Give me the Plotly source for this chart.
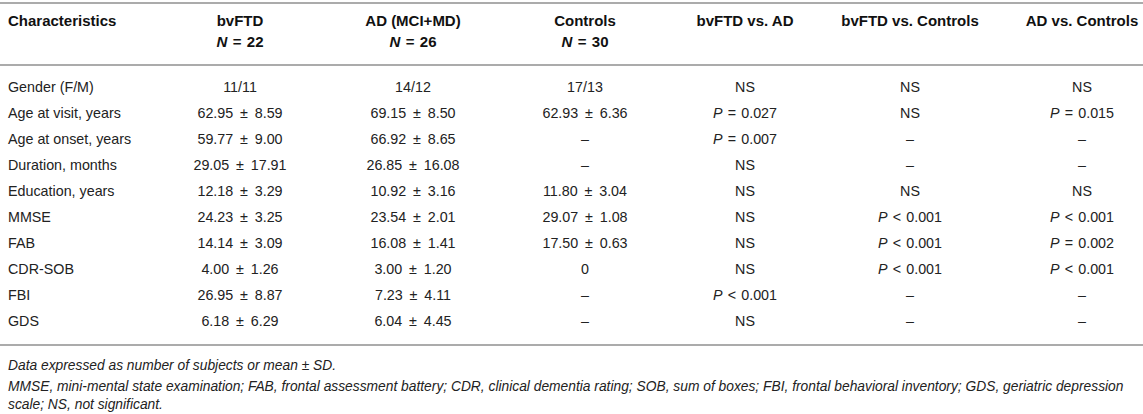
import plotly.graph_objects as go

# Table content.
CHARACTERISTICS = [
    "Gender (F/M)", "Age at visit, years", "Age at onset, years",
    "Duration, months", "Education, years", "MMSE", "FAB", "CDR-SOB",
    "FBI", "GDS",
]
BVFTD = ["11/11", "62.95 ± 8.59", "59.77 ± 9.00", "29.05 ± 17.91",
         "12.18 ± 3.29", "24.23 ± 3.25", "14.14 ± 3.09", "4.00 ± 1.26",
         "26.95 ± 8.87", "6.18 ± 6.29"]
AD = ["14/12", "69.15 ± 8.50", "66.92 ± 8.65", "26.85 ± 16.08",
      "10.92 ± 3.16", "23.54 ± 2.01", "16.08 ± 1.41", "3.00 ± 1.20",
      "7.23 ± 4.11", "6.04 ± 4.45"]
CONTROLS = ["17/13", "62.93 ± 6.36", "–", "–", "11.80 ± 3.04",
            "29.07 ± 1.08", "17.50 ± 0.63", "0", "–", "–"]
BVFTD_VS_AD = ["NS", "P = 0.027", "P = 0.007", "NS", "NS", "NS", "NS",
               "NS", "P < 0.001", "NS"]
BVFTD_VS_CTRL = ["NS", "NS", "–", "–", "NS", "P < 0.001", "P < 0.001",
                 "P < 0.001", "–", "–"]
AD_VS_CTRL = ["NS", "P = 0.015", "–", "–", "NS", "P < 0.001", "P = 0.002",
              "P < 0.001", "–", "–"]

HEADERS = ["Characteristics", "bvFTD", "AD (MCI+MD)", "Controls",
           "bvFTD vs. AD", "bvFTD vs. Controls", "AD vs. Controls"]
GROUP_N = ["", "22", "26", "30", "", "", ""]

FOOTNOTES = [
    "Data expressed as number of subjects or mean ± SD.",
    "MMSE, mini-mental state examination; FAB, frontal assessment battery; "
    "CDR, clinical dementia rating; SOB, sum of boxes; FBI, frontal behavioral "
    "inventory; GDS, geriatric depression",
    "scale; NS, not significant.",
]

# Layout (pixel units: the axes map 1 unit to 1 px).
W, H = 1143, 414
COL_X = [8, 240, 413, 585, 745, 910, 1082]
HEAD_Y1, HEAD_Y2 = 22, 43
ROW_Y0, ROW_STEP = 88, 26.1
FOOT_Y = [367, 388, 406]
RULES_Y = [3, 65, 345]
FONT = "Liberation Sans, Arial, Helvetica, sans-serif"
TXT = "#222222"


def fmt(s):
    # math signs sit a little wider in the source typesetting
    s = s.replace(" ± ", "\u2009 ± \u2009")
    s = s.replace(" = ", " \u200a=\u200a ").replace(" < ", " \u200a<\u200a ")
    # p-values carry an italic P
    return "<i>P</i>" + s[1:] if s.startswith("P ") else s


columns = [CHARACTERISTICS, BVFTD, AD, CONTROLS,
           BVFTD_VS_AD, BVFTD_VS_CTRL, AD_VS_CTRL]
row_y = [ROW_Y0 + i * ROW_STEP for i in range(len(CHARACTERISTICS))]

fig = go.Figure()
for j, col in enumerate(columns):
    fig.add_trace(go.Scatter(
        x=[COL_X[j]] * len(col), y=row_y, mode="text",
        text=[fmt(v) for v in col],
        textposition="middle right" if j == 0 else "middle center",
        textfont=dict(family=FONT, size=14.3, color=TXT),
        hoverinfo="skip", showlegend=False,
    ))

# header, first line
fig.add_trace(go.Scatter(
    x=COL_X, y=[HEAD_Y1] * len(HEADERS), mode="text",
    text=[f"<b>{h}</b>" for h in HEADERS],
    textposition=["middle right"] + ["middle center"] * (len(HEADERS) - 1),
    textfont=dict(family=FONT, size=15, color="#111111"),
    hoverinfo="skip", showlegend=False,
))
# header, group sizes
n_idx = [j for j, n in enumerate(GROUP_N) if n]
fig.add_trace(go.Scatter(
    x=[COL_X[j] for j in n_idx], y=[HEAD_Y2] * len(n_idx), mode="text",
    text=[f"<b><i>N</i> \u200a=\u200a {GROUP_N[j]}</b>" for j in n_idx],
    textposition="middle center",
    textfont=dict(family=FONT, size=15, color="#111111"),
    hoverinfo="skip", showlegend=False,
))
# footnotes
fig.add_trace(go.Scatter(
    x=[COL_X[0]] * len(FOOTNOTES), y=FOOT_Y, mode="text",
    text=[f"<i>{t}</i>" for t in FOOTNOTES],
    textposition="middle right",
    textfont=dict(family=FONT, size=13.8, color=TXT),
    hoverinfo="skip", showlegend=False,
))

for yy in RULES_Y:
    fig.add_shape(type="line", xref="paper", yref="y", x0=0, x1=1, y0=yy, y1=yy,
                  line=dict(color="#ababab", width=2))

fig.update_layout(
    width=W, height=H, margin=dict(l=0, r=0, t=0, b=0),
    paper_bgcolor="white", plot_bgcolor="white",
    xaxis=dict(range=[0, W], visible=False, fixedrange=True),
    yaxis=dict(range=[H, 0], visible=False, fixedrange=True),
)
# the browser's default 8px body margin would push the table off the page
fig.write_html("out.html", config={"displayModeBar": False},
               post_script="document.body.style.margin='0';")
